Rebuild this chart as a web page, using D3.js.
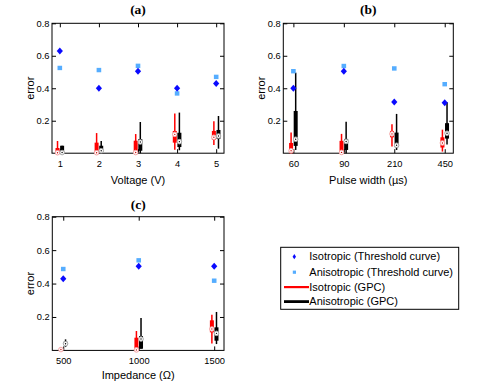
<!DOCTYPE html>
<html><head><meta charset="utf-8">
<script src="https://cdn.jsdelivr.net/npm/d3@7/dist/d3.min.js"></script>
<style>body{margin:0;background:#fff}svg{display:block}</style>
</head><body>
<svg id="c" width="478" height="386"></svg>
<script>
// ---- data ----
const catsA = ["1","2","3","4","5"];
const catsB = ["60","90","210","450"];
const catsC = ["500","1000","1500"];
const yTicks = [0.2,0.4,0.6,0.8];

const isoThrA = [0.63,0.40,0.505,0.40,0.43];
const aniThrA = [0.525,0.512,0.538,0.368,0.47];
const isoThrB = [0.40,0.505,0.315,0.31];
const aniThrB = [0.505,0.537,0.522,0.425];
const isoThrC = [0.428,0.503,0.503];
const aniThrC = [0.487,0.539,0.417];

// [whisker low, q1, median, q3, whisker high]
const isoGpcA = [[0,0,0.003,0.032,0.075],[0,0,0.003,0.065,0.124],[0,0,0.004,0.077,0.118],[0.022,0.065,0.116,0.137,0.245],[0.05,0.083,0.098,0.137,0.196]];
const aniGpcA = [[0,0,0.004,0.046,0.046],[0,0.008,0.015,0.046,0.075],[0,0.015,0.069,0.087,0.192],[0.018,0.038,0.071,0.126,0.25],[0.028,0.089,0.106,0.143,0.229]];
const isoGpcB = [[0,0,0.015,0.063,0.127],[0,0,0.005,0.076,0.119],[0.041,0.098,0.119,0.137,0.178],[0.01,0.035,0.063,0.098,0.145]];
const aniGpcB = [[0.02,0.045,0.086,0.26,0.496],[0,0.02,0.072,0.088,0.193],[0.02,0.037,0.049,0.127,0.242],[0.053,0.09,0.123,0.185,0.314]];
const isoGpcC = [[0,0,0.005,0.006,0.008],[0,0,0.003,0.076,0.116],[0.042,0.108,0.128,0.18,0.214]];
const aniGpcC = [[0.02,0.032,0.04,0.052,0.066],[0.01,0.01,0.068,0.086,0.194],[0.038,0.058,0.102,0.138,0.23]];

const legendLabels = ["Isotropic (Threshold curve)","Anisotropic (Threshold curve)","Isotropic (GPC)","Anisotropic (GPC)"];

// ---- layout ----
const panels = [
  {title:"(a)", xlabel:"Voltage (V)", cats:catsA, iso:isoThrA, ani:aniThrA, isoG:isoGpcA, aniG:aniGpcA,
   xr:[52,224], xd:[0.8,5.2], yr:[153.2,23.3], titleY:14, xlabY:184, errX:33.5},
  {title:"(b)", xlabel:"Pulse width (\u00b5s)", cats:catsB, iso:isoThrB, ani:aniThrB, isoG:isoGpcB, aniG:aniGpcB,
   xr:[283.3,453.3], xd:[0.8,4.17], yr:[153.2,23.3], titleY:14, xlabY:184, errX:264.5},
  {title:"(c)", xlabel:"Impedance (\u03a9)", cats:catsC, iso:isoThrC, ani:aniThrC, isoG:isoGpcC, aniG:aniGpcC,
   xr:[52.3,224], xd:[0.855,3.13], yr:[350.4,216.7], titleY:209, xlabY:378.5, errX:34}
];

const svg = d3.select("#c");
const FONT = "Liberation Sans, Arial, sans-serif";
const BLUE = "#0a0aff", LBLUE = "#55adff";

panels.forEach(p => {
  const x = d3.scaleLinear().domain(p.xd).range(p.xr);
  const y = d3.scaleLinear().domain([0,0.8]).range(p.yr);
  const g = svg.append("g");
  const x0 = p.xr[0], x1 = p.xr[1], yb = p.yr[0], yt = p.yr[1];
  const idx = p.cats.map((c,i)=>i+1);

  // axes (inward ticks)
  const bottom = g.append("g").attr("transform",`translate(0,${yb})`)
    .call(d3.axisBottom(x).tickValues(idx).tickFormat((d,i)=>p.cats[i]).tickSizeInner(-4).tickSizeOuter(0).tickPadding(3));
  const top = g.append("g").attr("transform",`translate(0,${yt})`)
    .call(d3.axisTop(x).tickValues(idx).tickFormat("").tickSizeInner(-4).tickSizeOuter(0));
  const left = g.append("g").attr("transform",`translate(${x0},0)`)
    .call(d3.axisLeft(y).tickValues(yTicks).tickFormat(d3.format(".1f")).tickSizeInner(-4).tickSizeOuter(0).tickPadding(2.5));
  const right = g.append("g").attr("transform",`translate(${x1},0)`)
    .call(d3.axisRight(y).tickValues(yTicks).tickFormat("").tickSizeInner(-4).tickSizeOuter(0));
  [bottom,top,left,right].forEach(a=>{
    a.select(".domain").remove();
    a.selectAll("line").attr("stroke","#000").attr("stroke-width",1);
    a.selectAll("text").attr("font-family",FONT).attr("font-size",9.3).attr("fill","#000");
  });
  bottom.selectAll("text").attr("dy","0.71em").attr("y",7.5);
  g.append("rect").attr("x",x0).attr("y",yt).attr("width",x1-x0).attr("height",yb-yt)
    .attr("fill","none").attr("stroke","#000").attr("stroke-width",1);

  // boxplots
  const drawBox = (data, off, col, circCol) => {
    data.forEach((d,i)=>{
      const cx = x(i+1)+off;
      g.append("line").attr("x1",cx).attr("x2",cx).attr("y1",y(d[0])).attr("y2",y(d[4]))
        .attr("stroke",col).attr("stroke-width",1.5);
      g.append("rect").attr("x",cx-2).attr("width",4).attr("y",y(d[3])).attr("height",Math.max(0,y(d[1])-y(d[3])))
        .attr("fill",col);
      g.append("circle").attr("cx",cx).attr("cy",y(d[2])).attr("r",2.3)
        .attr("fill","#fff").attr("stroke",circCol).attr("stroke-width",1);
      g.append("circle").attr("cx",cx).attr("cy",y(d[2])).attr("r",0.7).attr("fill",col === "#ff0000" ? "#c00" : "#000");
    });
  };
  drawBox(p.isoG, -2.3, "#ff0000", "#f5a3a3");
  drawBox(p.aniG, 2.3, "#000000", "#a8a8a8");

  // threshold markers
  g.selectAll(".sq").data(p.ani).join("rect")
    .attr("x",(d,i)=>x(i+1)-2.3).attr("y",d=>y(d)-2.2).attr("width",4.6).attr("height",4.4).attr("fill",LBLUE);
  g.selectAll(".dm").data(p.iso).join("path")
    .attr("d",(d,i)=>{const cx=x(i+1), cy=y(d); return `M${cx},${cy-3.5}L${cx+3.1},${cy}L${cx},${cy+3.5}L${cx-3.1},${cy}Z`;})
    .attr("fill",BLUE);

  // labels
  g.append("text").attr("x",(x0+x1)/2).attr("y",p.titleY).attr("text-anchor","middle")
    .attr("font-family","Liberation Serif, serif").attr("font-weight","bold").attr("font-size",13.5).text(p.title);
  g.append("text").attr("x",(x0+x1)/2).attr("y",p.xlabY).attr("text-anchor","middle")
    .attr("font-family",FONT).attr("font-size",11).text(p.xlabel);
  g.append("text").attr("transform",`translate(${p.errX},${(yb+yt)/2}) rotate(-90)`).attr("text-anchor","middle")
    .attr("font-family",FONT).attr("font-size",11).text("error");
});

// legend
const lg = svg.append("g");
lg.append("rect").attr("x",280.7).attr("y",247.3).attr("width",178).attr("height",62)
  .attr("fill","#fff").attr("stroke","#000").attr("stroke-width",1);
const rows = [256.7,272.2,287.1,301.6];
lg.append("path").attr("d",`M294.3,${rows[0]-2.6}L296,${rows[0]}L294.3,${rows[0]+2.6}L292.6,${rows[0]}Z`).attr("fill",BLUE);
lg.append("rect").attr("x",292.8).attr("y",rows[1]-1.6).attr("width",3.2).attr("height",3.2).attr("fill",LBLUE);
lg.append("line").attr("x1",284).attr("x2",309).attr("y1",rows[2]).attr("y2",rows[2]).attr("stroke","#ff0000").attr("stroke-width",2.2);
lg.append("line").attr("x1",284).attr("x2",309).attr("y1",rows[3]).attr("y2",rows[3]).attr("stroke","#000").attr("stroke-width",2.8);
legendLabels.forEach((t,i)=>{
  lg.append("text").attr("x",309.3).attr("y",rows[i]+3.7).attr("font-family",FONT).attr("font-size",11).text(t);
});
</script>
</body></html>
